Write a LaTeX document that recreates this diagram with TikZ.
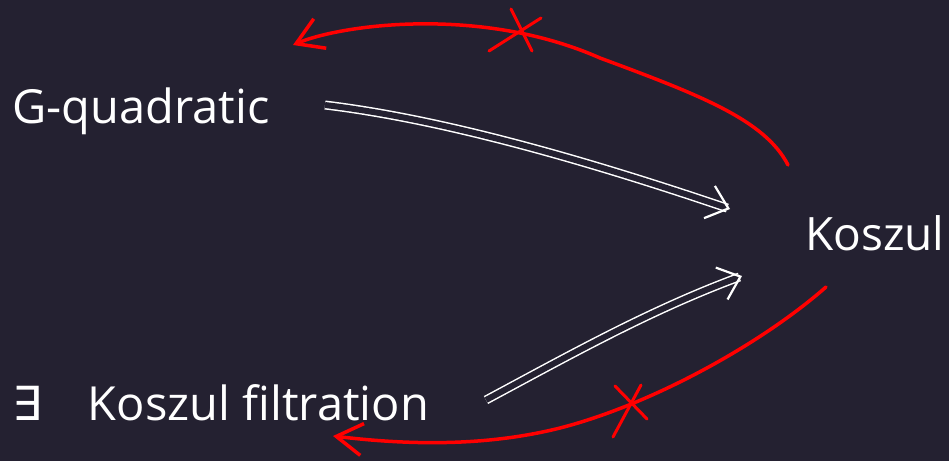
\documentclass[tikz,border=0pt]{standalone}
\usepackage{fontspec}
\setmainfont{Open Sans}
\newfontfamily\symfont{DejaVu Sans}
\usetikzlibrary{arrows.meta}
\definecolor{bg}{HTML}{242131}
\begin{document}
\begin{tikzpicture}[x=1pt,y=-1pt,
  lbl/.style={text=white, font=\fontsize{47}{52}\selectfont, inner sep=0pt, anchor=base west},
  redarc/.style={red, line width=3.5pt, line cap=round, -{Straight Barb[length=26pt,width=32pt,line width=3.5pt]}},
  dbl/.style={white, line width=1.5pt, double=bg, double distance=6pt, -{Straight Barb[length=20pt,width=34pt,line width=2.2pt]}},
  crossmark/.style={red, line width=3pt, line cap=round}]
\fill[bg] (0,0) rectangle (949,461);
\useasboundingbox (0,0) rectangle (949,461);

\node[lbl] (gq) at (12,123) {G-quadratic};
\node[lbl, font=\fontsize{46}{52}\selectfont] (ks) at (805,250) {Koszul};
\node[lbl] (kf) at (12,420) {{\symfont ∃}\hspace{46pt}Koszul filtration};

% coordinates for connector ends
\coordinate (t1s) at ([shift={(-17,-85)}]ks.base west);
\coordinate (t1e) at ([shift={(281,-78)}]gq.base west);
\coordinate (b1s) at ([shift={(21,37)}]ks.base west);
\coordinate (b1e) at ([shift={(321,16)}]kf.base west);
\coordinate (w1s) at ([shift={(313,-18)}]gq.base west);
\coordinate (w1e) at ([shift={(-75,-41)}]ks.base west);
\coordinate (w2s) at ([shift={(474,-20)}]kf.base west);
\coordinate (w2e) at ([shift={(-63,26)}]ks.base west);

% red arcs
\draw[redarc] (t1s) .. controls (765,120) and (700,95) .. (600,58)
   .. controls (480,5) and (340,25) .. (t1e);
\draw[redarc] (b1s) .. controls (760,345) and (650,405) .. (560,428)
   .. controls (480,448) and (400,444) .. (b1e);

% crosses
\draw[crossmark] (511,9) -- (532,51);
\draw[crossmark] (541,18) -- (489,51);
\draw[crossmark] (615,386) -- (647,419);
\draw[crossmark] (641,385) -- (613,437);

% white double arrows
\draw[dbl] (w1s) .. controls (450,120) and (600,165) .. (w1e);
\draw[dbl] (w2s) .. controls (570,355) and (650,310) .. (w2e);
\end{tikzpicture}
\end{document}
